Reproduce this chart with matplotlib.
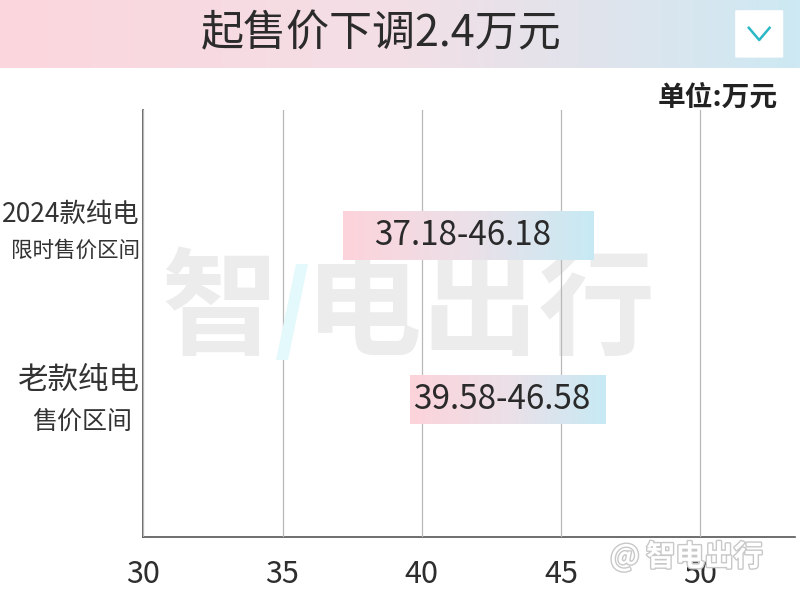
import numpy as np
import matplotlib.pyplot as plt
import matplotlib.transforms as mtransforms
import matplotlib.patheffects as pe
from matplotlib.colors import LinearSegmentedColormap
from matplotlib.patches import FancyBboxPatch, Polygon

plt.rcParams['font.family'] = ['Noto Sans CJK SC', 'DejaVu Sans']

models = ["2024款纯电", "老款纯电"]
subtitles = ["限时售价区间", "售价区间"]
price_low = [37.18, 39.58]
price_high = [46.18, 46.58]
ticks = [30, 35, 40, 45, 50]

fig = plt.figure(figsize=(8, 6), dpi=100)
grad = np.linspace(0, 1, 256).reshape(1, -1)

# header band
head = fig.add_axes([0, 0.887, 1, 0.113])
cmap_head = LinearSegmentedColormap.from_list("head", ["#fcd6dd", "#f3dfe6", "#cde9f3"])
head.imshow(grad, aspect="auto", cmap=cmap_head, extent=(0, 1, 0, 1))
head.set_xlim(0, 1)
head.set_ylim(0, 1)
head.set_axis_off()
head.text(0.477, 0.5, "起售价下调2.4万元", ha="center", va="center",
          fontsize=31, color="#2b2b2b")
head.add_patch(FancyBboxPatch((0.919, 0.15), 0.06, 0.70,
                              boxstyle="round,pad=0,rounding_size=0.006",
                              fc="white", ec="none"))
head.plot([0.936, 0.949, 0.962], [0.59, 0.41, 0.59], color="#2ab7c6", lw=1.8)

# main axes
ax = fig.add_axes([0.179, 0.105, 0.815, 0.712])
ax.patch.set_alpha(0)
cmap_bar = LinearSegmentedColormap.from_list("bar", ["#fdd3db", "#ece0e8", "#c7eaf4"])
h = 0.293
for i, (lo, hi) in enumerate(zip(price_low, price_high)):
    ax.imshow(grad, cmap=cmap_bar, aspect="auto", extent=(lo, hi, i + h / 2, i - h / 2), zorder=3)
    ax.text((lo + hi) / 2 - 0.2, i, f"{lo:.2f}-{hi:.2f}", ha="center", va="center",
            fontsize=24, fontweight="medium", color="#2a2a2a", zorder=4)

# watermark
ax.text(0.51, 0.48, "智 电出行", transform=fig.transFigure, ha="center", va="center",
        fontsize=84, fontweight="heavy", color="#ececec", zorder=1)
fig.patches.append(Polygon([[0.37, 0.56], [0.385, 0.56], [0.36, 0.40], [0.345, 0.40]],
                           closed=True, transform=fig.transFigure, fc="#e4f9fb", ec="none"))
fig.text(0.858, 0.073, "@ 智电出行", ha="center", va="center", fontsize=21,
         fontweight="bold", color="white",
         path_effects=[pe.withStroke(linewidth=2, foreground="#c8c8c8")])

trans = mtransforms.blended_transform_factory(ax.transAxes, ax.transData)
ax.text(-0.005, 0 - 0.128, models[0], transform=trans, ha="right", va="center",
        fontsize=19, color="#333333")
ax.text(-0.005, 0 + 0.09, subtitles[0], transform=trans, ha="right", va="center",
        fontsize=15.5, color="#333333")
ax.text(-0.005, 1 - 0.12, models[1], transform=trans, ha="right", va="center",
        fontsize=22, color="#333333")
ax.text(-0.017, 1 + 0.134, subtitles[1], transform=trans, ha="right", va="center",
        fontsize=18, color="#333333")

ax.set_xlim(30, 53.4)
ax.set_ylim(1.835, -0.768)
ax.set_xticks(ticks)
ax.set_yticks([])
ax.tick_params(axis="x", length=0, pad=16, labelsize=22, labelcolor="#2e2e2e")
ax.grid(axis="x", color="#b8b8b8", lw=0.9, zorder=2)
ax.set_axisbelow(False)
for s in ["top", "right"]:
    ax.spines[s].set_visible(False)
for s in ["left", "bottom"]:
    ax.spines[s].set_color("#555555")
    ax.spines[s].set_linewidth(1.2)

fig.text(0.9725, 0.838, "单位:万元", ha="right", va="center", fontsize=20,
         fontweight="bold", color="#222222")

fig.savefig("out.png", dpi=100)
